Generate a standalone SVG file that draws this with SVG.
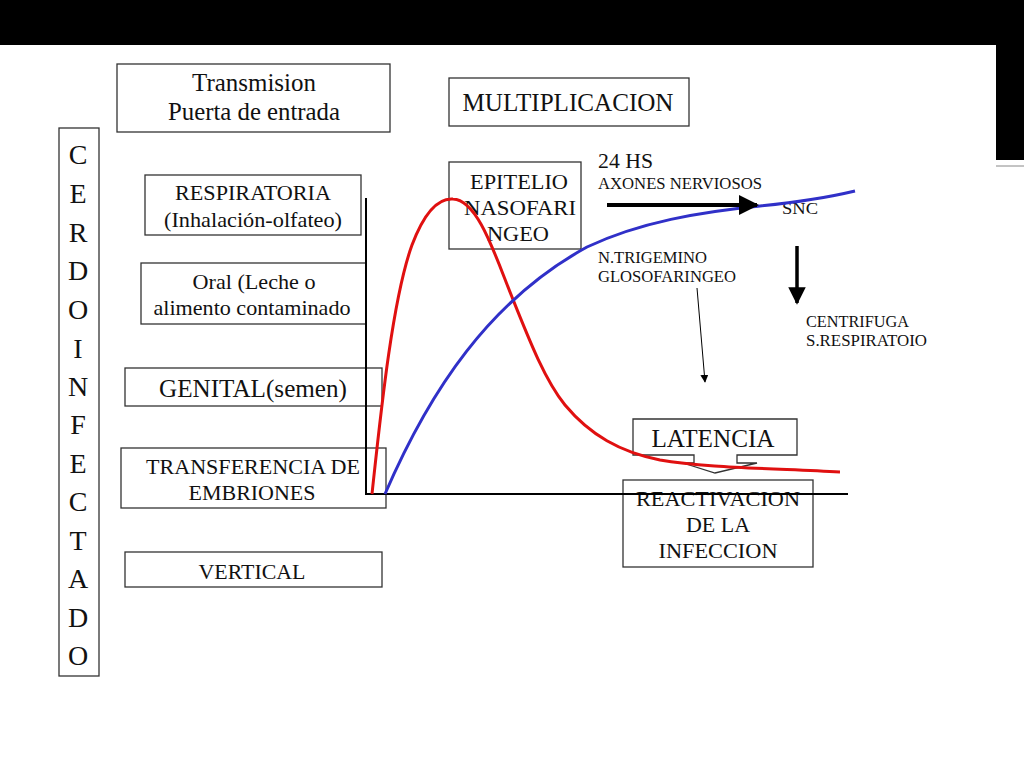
<svg xmlns="http://www.w3.org/2000/svg" width="1024" height="768" viewBox="0 0 1024 768">
<defs>
<style>
.box{fill:#fff;stroke:#333;stroke-width:1.3}
.t{font-family:"Liberation Serif","Times New Roman",serif;fill:#111;text-anchor:middle}
.s18{font-size:21.5px}
.s21{font-size:25px}
.s14{font-size:16.5px;text-anchor:start}
.ax{stroke:#000;stroke-width:2;fill:none}
</style>
<marker id="thick" viewBox="0 0 10 10" refX="9" refY="5" markerWidth="5" markerHeight="5" orient="auto" markerUnits="strokeWidth"><path d="M0,0 L10,5 L0,10 z" fill="#000"/></marker>
<marker id="thin" viewBox="0 0 10 10" refX="9" refY="5" markerWidth="8" markerHeight="8" orient="auto" markerUnits="strokeWidth"><path d="M0,0 L10,5 L0,10 z" fill="#000"/></marker>
</defs>
<rect width="1024" height="768" fill="#fff"/>
<rect x="0" y="0" width="1024" height="45" fill="#000"/>
<rect x="996" y="45" width="28" height="115" fill="#000"/>
<line x1="996" y1="166" x2="1024" y2="166" stroke="#888" stroke-width="1"/>

<g id="transmision"><rect class="box" x="117" y="64" width="273" height="68"/><text class="t s21" x="254" y="91" textLength="124" lengthAdjust="spacingAndGlyphs">Transmision</text><text class="t s21" x="254" y="120" textLength="172" lengthAdjust="spacingAndGlyphs">Puerta de entrada</text></g>
<g id="multiplicacion"><rect class="box" x="449" y="78" width="240" height="48"/><text class="t s21" x="568" y="111" textLength="211" lengthAdjust="spacingAndGlyphs">MULTIPLICACION</text></g>
<g id="cerdo"><rect class="box" x="59" y="128" width="40" height="548"/>
<text class="t" style="font-size:28px" x="78"><tspan x="78" y="164">C</tspan><tspan x="78" y="203">E</tspan><tspan x="78" y="242">R</tspan><tspan x="78" y="280">D</tspan><tspan x="78" y="319">O</tspan><tspan x="78" y="358">I</tspan><tspan x="78" y="396">N</tspan><tspan x="78" y="434">F</tspan><tspan x="78" y="473">E</tspan><tspan x="78" y="511">C</tspan><tspan x="78" y="550">T</tspan><tspan x="78" y="588">A</tspan><tspan x="78" y="627">D</tspan><tspan x="78" y="665">O</tspan></text></g>
<g id="respiratoria"><rect class="box" x="145" y="175" width="216" height="60"/><text class="t s18" x="253" y="200" textLength="156" lengthAdjust="spacingAndGlyphs">RESPIRATORIA</text><text class="t s18" x="253" y="227" textLength="178" lengthAdjust="spacingAndGlyphs">(Inhalación-olfateo)</text></g>
<g id="oral"><rect class="box" x="141" y="263" width="225" height="61"/><text class="t s18" x="254" y="289" textLength="123" lengthAdjust="spacingAndGlyphs">Oral (Leche o</text><text class="t s18" x="252" y="315" textLength="197" lengthAdjust="spacingAndGlyphs">alimento contaminado</text></g>
<g id="genital"><rect class="box" x="125" y="368" width="257" height="38"/><text class="t s21" x="253" y="397" textLength="188" lengthAdjust="spacingAndGlyphs">GENITAL(semen)</text></g>
<g id="transferencia"><rect class="box" x="121" y="448" width="265" height="60"/><text class="t s18" x="253" y="474" textLength="214" lengthAdjust="spacingAndGlyphs">TRANSFERENCIA DE</text><text class="t s18" x="252" y="500" textLength="127" lengthAdjust="spacingAndGlyphs">EMBRIONES</text></g>
<g id="vertical"><rect class="box" x="125" y="552" width="257" height="35"/><text class="t s18" x="252" y="579" textLength="107" lengthAdjust="spacingAndGlyphs">VERTICAL</text></g>
<g id="epitelio"><rect class="box" x="449" y="162" width="132" height="87"/><text class="t s18" x="519" y="189" textLength="98" lengthAdjust="spacingAndGlyphs">EPITELIO</text><text class="t s18" x="520" y="215" textLength="112" lengthAdjust="spacingAndGlyphs">NASOFARI</text><text class="t s18" x="518" y="241" textLength="62" lengthAdjust="spacingAndGlyphs">NGEO</text></g>
<g id="reactivacion"><rect class="box" x="623" y="480" width="190" height="87"/><text class="t s18" x="718" y="506" textLength="164" lengthAdjust="spacingAndGlyphs">REACTIVACION</text><text class="t s18" x="718" y="532" textLength="64" lengthAdjust="spacingAndGlyphs">DE LA</text><text class="t s18" x="718" y="558" textLength="119" lengthAdjust="spacingAndGlyphs">INFECCION</text></g>
<g id="latencia"><path class="box" d="M633,419 H797 V455 H737 V463 H757 L715,473 L683,463 H694 V455 H633 Z"/><text class="t s21" x="713" y="447" textLength="123" lengthAdjust="spacingAndGlyphs">LATENCIA</text></g>

<g id="labels">
<text class="t" style="font-size:22px;text-anchor:start" x="598" y="168" textLength="55" lengthAdjust="spacingAndGlyphs">24 HS</text>
<text class="t s14" x="598" y="189" textLength="164" lengthAdjust="spacingAndGlyphs">AXONES NERVIOSOS</text>
<text class="t s14" x="782" y="214" textLength="36" lengthAdjust="spacingAndGlyphs">SNC</text>
<text class="t s14" x="598" y="263" textLength="109" lengthAdjust="spacingAndGlyphs">N.TRIGEMINO</text>
<text class="t s14" x="598" y="282" textLength="138" lengthAdjust="spacingAndGlyphs">GLOSOFARINGEO</text>
<text class="t s14" x="806" y="327" textLength="103" lengthAdjust="spacingAndGlyphs">CENTRIFUGA</text>
<text class="t s14" x="806" y="346" textLength="121" lengthAdjust="spacingAndGlyphs">S.RESPIRATOIO</text>
</g>

<g id="connectors">
<polyline class="ax" points="366,198 366,494 848,494" stroke-width="2"/>
<path d="M372,494 C380,420 392,300 412,245 C426,208 440,198 453,199 C478,200 495,255 512,297 C530,342 545,380 565,405 C590,435 620,452 660,460 C700,467 760,468 840,472" fill="none" stroke="#e01010" stroke-width="3"/>
<path d="M385,494 C430,390 490,300 587,247 C640,222 700,212 760,206 C800,202 830,197 855,191" fill="none" stroke="#3030c8" stroke-width="3"/>
<line x1="607" y1="205" x2="757" y2="205" stroke="#000" stroke-width="4" marker-end="url(#thick)"/>
<line x1="797" y1="246" x2="797" y2="303" stroke="#000" stroke-width="3.5" marker-end="url(#thick)"/>
<line x1="697" y1="288" x2="705" y2="382" stroke="#000" stroke-width="1" marker-end="url(#thin)"/>
</g>
</svg>
